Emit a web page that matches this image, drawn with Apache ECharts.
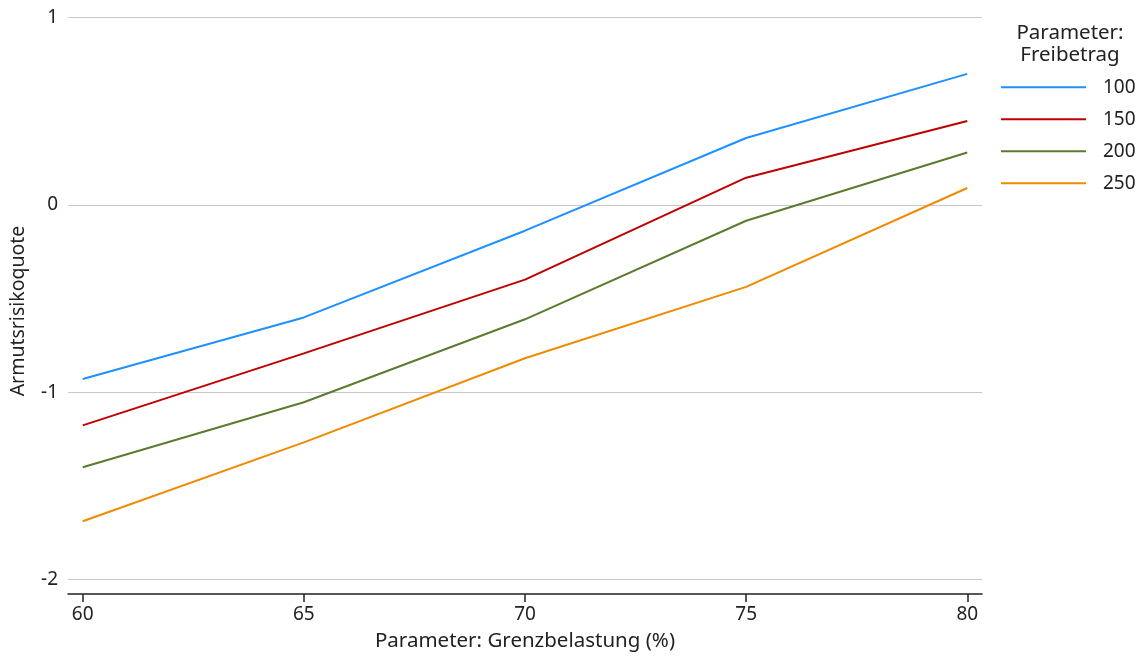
<!DOCTYPE html>
<html>
<head>
<meta charset="utf-8">
<script src="https://cdn.jsdelivr.net/npm/echarts@6/dist/echarts.min.js"></script>
<style>
html,body{margin:0;padding:0;background:#fff;}
#chart{width:1145px;height:657px;}
</style>
</head>
<body>
<div id="chart"></div>
<script>
const xValues = [60, 65, 70, 75, 80];
const xTickLabels = [60, 65, 70, 75, 80];
const yTickLabels = [-2, -1, 0, 1];
const seriesNames = ['100', '150', '200', '250'];
const values100 = [-0.929, -0.600, -0.137, 0.358, 0.700];
const values150 = [-1.176, -0.792, -0.398, 0.146, 0.449];
const values200 = [-1.400, -1.053, -0.610, -0.084, 0.280];
const values250 = [-1.688, -1.267, -0.818, -0.437, 0.091];
const colors = ['#1e90ff', '#c00000', '#5b7b2e', '#f08a00'];
const xTitle = 'Parameter: Grenzbelastung (%)';
const yTitle = 'Armutsrisikoquote';
const legendTitle = 'Parameter:\nFreibetrag';

const allValues = [values100, values150, values200, values250];
const font = '"Noto Sans", sans-serif';
const fs = 19;
const ts = 20.5;

const chart = echarts.init(document.getElementById('chart'), null, {renderer: 'canvas'});
chart.setOption({
  animation: false,
  backgroundColor: '#fff',
  textStyle: {fontFamily: font},
  grid: {left: 68, right: 163, top: 17.7, bottom: 76.3, containLabel: false},
  xAxis: {
    type: 'value',
    min: 59.667,
    max: 80.333,
    offset: 14.3,
    name: xTitle,
    nameLocation: 'middle',
    nameGap: 37,
    nameTextStyle: {fontSize: ts, color: '#222', fontFamily: font},
    axisLine: {show: true, onZero: false, lineStyle: {color: '#222', width: 1.5}},
    axisTick: {show: true, length: 8, customValues: xTickLabels, lineStyle: {color: '#222', width: 1.5}},
    axisLabel: {customValues: xTickLabels, fontSize: fs, color: '#222', margin: 11, fontFamily: font},
    splitLine: {show: false}
  },
  yAxis: {
    type: 'value',
    min: -2,
    max: 1,
    interval: 1,
    axisLine: {show: false},
    axisTick: {show: false},
    axisLabel: {fontSize: fs, color: '#222', margin: 10, fontFamily: font},
    splitLine: {show: true, lineStyle: {color: '#c8c8c8', width: 1.2}}
  },
  legend: {
    orient: 'vertical',
    left: 1000,
    top: 77.7,
    padding: 0,
    itemWidth: 85,
    itemHeight: 16,
    itemGap: 13,
    data: seriesNames,
    itemStyle: {opacity: 0},
    textStyle: {fontSize: fs, color: '#222', lineHeight: 16, padding: [0, 0, 0, 12], fontFamily: font}
  },
  graphic: [
    {
      type: 'text',
      x: 18, y: 311,
      rotation: Math.PI / 2,
      style: {text: yTitle, fontSize: 19.5, fill: '#222', align: 'center', verticalAlign: 'middle', fontFamily: font}
    },
    {
      type: 'text',
      x: 1070, y: 44,
      style: {text: legendTitle, fontSize: ts, lineHeight: 22, fill: '#222', align: 'center', verticalAlign: 'middle', fontFamily: font}
    }
  ],
  series: seriesNames.map((name, i) => ({
    name: name,
    type: 'line',
    symbol: 'none',
    data: xValues.map((x, j) => [x, allValues[i][j]]),
    lineStyle: {color: colors[i], width: 2},
    itemStyle: {color: colors[i]}
  }))
});
</script>
</body>
</html>
